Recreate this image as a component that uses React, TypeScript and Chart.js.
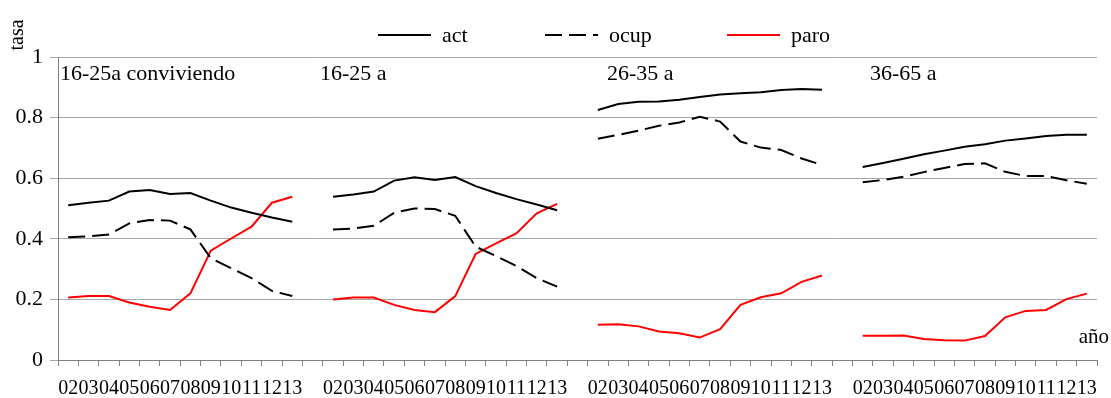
import React, { useEffect, useRef } from "react";
import { Chart, registerables } from "chart.js";

Chart.register(...registerables);

const FONT = '"Liberation Serif", "Times New Roman", serif';

const years = ["02", "03", "04", "05", "06", "07", "08", "09", "10", "11", "12", "13"];
const panelNames = ["16-25a conviviendo", "16-25 a", "26-35 a", "36-65 a"];
const yTicks = [0, 0.2, 0.4, 0.6, 0.8, 1];

// 16-25a conviviendo
const actConv = [0.511, 0.519, 0.526, 0.556, 0.561, 0.548, 0.551, 0.526, 0.503, 0.486, 0.47, 0.456];
const ocupConv = [0.405, 0.408, 0.414, 0.451, 0.462, 0.46, 0.431, 0.336, 0.303, 0.27, 0.228, 0.211];
const paroConv = [0.206, 0.211, 0.211, 0.19, 0.176, 0.165, 0.22, 0.361, 0.401, 0.44, 0.519, 0.539];

// 16-25 a
const act1625 = [0.539, 0.546, 0.556, 0.592, 0.603, 0.594, 0.604, 0.574, 0.551, 0.531, 0.513, 0.494];
const ocup1625 = [0.431, 0.434, 0.443, 0.486, 0.5, 0.498, 0.476, 0.374, 0.343, 0.31, 0.27, 0.242];
const paro1625 = [0.2, 0.206, 0.206, 0.182, 0.165, 0.158, 0.211, 0.35, 0.385, 0.418, 0.484, 0.515];

// 26-35 a
const act2635 = [0.825, 0.845, 0.852, 0.853, 0.859, 0.868, 0.876, 0.88, 0.884, 0.891, 0.894, 0.892];
const ocup2635 = [0.73, 0.743, 0.757, 0.773, 0.784, 0.803, 0.787, 0.721, 0.701, 0.693, 0.665, 0.644];
const paro2635 = [0.116, 0.118, 0.111, 0.094, 0.088, 0.074, 0.102, 0.182, 0.207, 0.22, 0.258, 0.279];

// 36-65 a
const act3665 = [0.637, 0.65, 0.664, 0.679, 0.691, 0.704, 0.712, 0.724, 0.731, 0.739, 0.743, 0.743];
const ocup3665 = [0.587, 0.594, 0.605, 0.62, 0.634, 0.647, 0.649, 0.621, 0.607, 0.607, 0.593, 0.582];
const paro3665 = [0.08, 0.08, 0.081, 0.069, 0.065, 0.064, 0.079, 0.141, 0.162, 0.165, 0.201, 0.219];

const seriesNames = ["act", "ocup", "paro"];

function joinPanels<T>(parts: T[][], gap: T): T[] {
  const out: T[] = [];
  parts.forEach((p, i) => {
    if (i > 0) out.push(gap);
    out.push(...p);
  });
  return out;
}

const labels = joinPanels([years, years, years, years], "");
const actAll = joinPanels<number | null>([actConv, act1625, act2635, act3665], null);
const ocupAll = joinPanels<number | null>([ocupConv, ocup1625, ocup2635, ocup3665], null);
const paroAll = joinPanels<number | null>([paroConv, paro1625, paro2635, paro3665], null);

const seriesStyles = [
  { color: "#000000", dash: [] as number[] },
  { color: "#000000", dash: [17, 7] },
  { color: "#ff0000", dash: [] as number[] },
];

const textPlugin = {
  id: "textPlugin",
  afterDraw(chart: any) {
    const ctx = chart.ctx as CanvasRenderingContext2D;
    ctx.save();
    ctx.fillStyle = "#000";
    ctx.font = `22px ${FONT}`;
    ctx.textBaseline = "middle";

    // panel labels
    const panelX = [60, 320, 607, 870];
    ctx.textAlign = "left";
    panelNames.forEach((n, i) => ctx.fillText(n, panelX[i], 74));

    // x axis title
    ctx.font = `21px ${FONT}`;
    ctx.textAlign = "right";
    ctx.fillText("año", 1109, 337);

    // y axis title
    ctx.save();
    ctx.font = `20px ${FONT}`;
    ctx.translate(18, 35);
    ctx.rotate(-Math.PI / 2);
    ctx.textAlign = "center";
    ctx.fillText("tasa", 0, 0);
    ctx.restore();

    // legend
    ctx.font = `22px ${FONT}`;
    const legendX = [378, 545, 727];
    ctx.lineWidth = 2;
    seriesNames.forEach((n, i) => {
      const st = seriesStyles[i];
      ctx.strokeStyle = st.color;
      ctx.setLineDash(st.dash);
      ctx.beginPath();
      ctx.moveTo(legendX[i], 35);
      ctx.lineTo(legendX[i] + 53, 35);
      ctx.stroke();
      ctx.setLineDash([]);
      ctx.textAlign = "left";
      ctx.fillText(n, legendX[i] + 64, 36);
    });
    ctx.restore();
  },
};

export default function App() {
  const ref = useRef<HTMLCanvasElement | null>(null);
  useEffect(() => {
    if (!ref.current) return;
    const data = [actAll, ocupAll, paroAll];
    const chart = new Chart(ref.current, {
      type: "line",
      data: {
        labels,
        datasets: seriesNames.map((n, i) => ({
          label: n,
          data: data[i],
          borderColor: seriesStyles[i].color,
          backgroundColor: seriesStyles[i].color,
          borderDash: seriesStyles[i].dash,
          borderWidth: 2,
          pointRadius: 0,
          tension: 0,
          spanGaps: false,
          fill: false,
        })),
      },
      options: {
        responsive: true,
        maintainAspectRatio: false,
        animation: false,
        layout: { padding: { top: 57, right: 14, left: 0, bottom: 0 } },
        plugins: {
          legend: { display: false },
          title: { display: false },
          tooltip: { enabled: false },
        },
        scales: {
          x: {
            type: "category",
            offset: true,
            grid: {
              offset: true,
              drawOnChartArea: false,
              drawTicks: true,
              tickLength: 6,
              color: "#808080",
            },
            border: { color: "#808080", width: 1 },
            ticks: {
              autoSkip: false,
              maxRotation: 0,
              minRotation: 0,
              padding: 11,
              color: "#000",
              font: { family: FONT, size: 20 },
            },
            afterFit(scale: any) {
              scale.height = 38;
            },
          },
          y: {
            min: 0,
            max: 1,
            afterBuildTicks(scale: any) {
              scale.ticks = yTicks.map((v) => ({ value: v }));
            },
            grid: {
              color: "#a6a6a6",
              drawTicks: true,
              tickLength: 8,
            },
            border: { color: "#808080", width: 1 },
            ticks: {
              padding: 7,
              color: "#000",
              font: { family: FONT, size: 22 },
              callback: (v: any) => String(Math.round(Number(v) * 10) / 10),
            },
            afterFit(scale: any) {
              scale.width = 58;
            },
          },
        },
      },
      plugins: [textPlugin],
    });
    return () => chart.destroy();
  }, []);
  return (
    <div style={{ position: "fixed", left: 0, top: 0, width: 1111, height: 398, background: "#fff" }}>
      <canvas ref={ref} />
    </div>
  );
}
